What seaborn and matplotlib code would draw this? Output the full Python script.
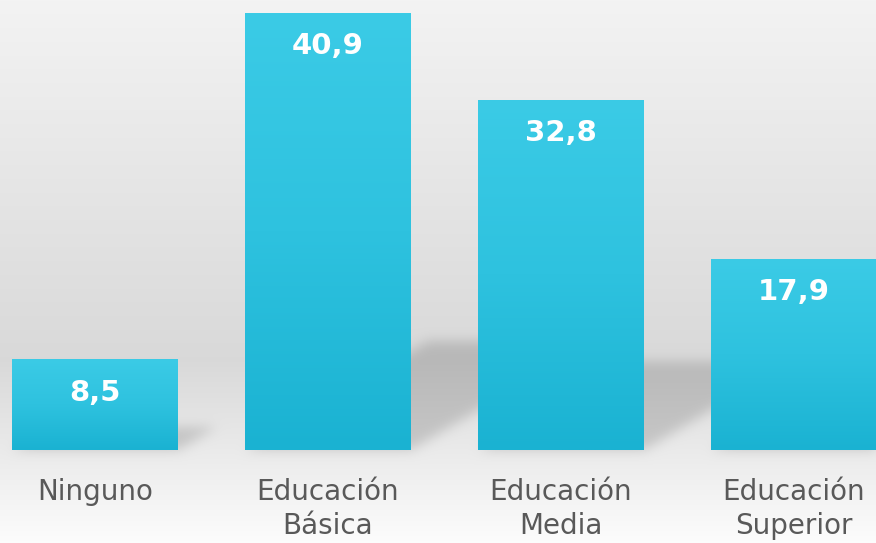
import numpy as np
import pandas as pd
import matplotlib
matplotlib.use("Agg")
import matplotlib.pyplot as plt
from matplotlib.path import Path
from matplotlib.colors import LinearSegmentedColormap
import seaborn as sns

# Nivel educativo alcanzado (%)
categories = ["Ninguno", "Educación\nBásica", "Educación\nMedia", "Educación\nSuperior"]
values = [8.5, 40.9, 32.8, 17.9]
value_labels = ["8,5", "40,9", "32,8", "17,9"]

W, H, DPI = 876, 543, 100
sns.set_theme(style="white")
plt.rcParams["font.family"] = ["DejaVu Sans"]

fig = plt.figure(figsize=(W / DPI, H / DPI), dpi=DPI)

# background axes covering the whole figure
bg_ax = fig.add_axes([0, 0, 1, 1], zorder=0)
bg_ax.set_axis_off()

ax = fig.add_axes([0, 93 / H, 1, 450 / H], zorder=1)
ax.patch.set_alpha(0)

df = pd.DataFrame({"nivel": categories, "pct": values})
sns.barplot(data=df, x="nivel", y="pct", color="#2bbfdd", width=0.712,
            saturation=1, ax=ax)
ax.set_xlim(-0.408, 3.352)
ax.set_ylim(0, 42.13)
ax.set_xlabel("")
ax.set_ylabel("")
ax.set_yticks([])
ax.tick_params(axis="x", length=0, pad=20, labelsize=20, labelcolor="#595959")
for lbl in ax.get_xticklabels():
    lbl.set_linespacing(1.28)
for s in ax.spines.values():
    s.set_visible(False)

# vertical gradient inside each bar
bar_cmap = LinearSegmentedColormap.from_list("bar", ["#1ab2d2", "#2ec2df", "#3bcbe6"])
grad = np.linspace(0, 1, 256).reshape(-1, 1)
for patch in ax.patches:
    x0, y0 = patch.get_x(), patch.get_y()
    w, h = patch.get_width(), patch.get_height()
    im = ax.imshow(grad, cmap=bar_cmap, origin="lower", aspect="auto",
                   extent=(x0, x0 + w, y0, y0 + h), zorder=2)
    im.set_clip_path(patch)
    patch.set_facecolor("none")
    patch.set_edgecolor("none")
ax.set_xlim(-0.408, 3.352)
ax.set_ylim(0, 42.13)

for i, (v, t) in enumerate(zip(values, value_labels)):
    ax.annotate(t, xy=(i, v), xytext=(0, -24), textcoords="offset points",
                ha="center", va="center", color="white", fontsize=21,
                fontweight="bold", zorder=3)

# background: light gray gradient plus soft perspective shadows of the bars
fig.canvas.draw()
rows = np.arange(H, dtype=float)
stops_y = [0, 360, 543]
stops_v = [0.953, 0.850, 0.990]
col = np.interp(rows, stops_y, stops_v)
bg = np.repeat(col[:, None], W, axis=1)

yy, xx = np.mgrid[0:H, 0:W]
pts = np.column_stack([xx.ravel() + 0.5, yy.ravel() + 0.5])
mask = np.zeros(H * W)
k, s = 0.42, 0.25
for patch in ax.patches:
    (px0, py0), (px1, py1) = ax.transData.transform(
        [[patch.get_x(), 0], [patch.get_x() + patch.get_width(), patch.get_height()]])
    # convert to image rows (top = 0)
    yb = H - py0
    hpx = py1 - py0
    poly = Path([(px0, yb), (px1, yb), (px1 + k * hpx, yb - s * hpx),
                 (px0 + k * hpx, yb - s * hpx), (px0, yb)])
    mask = np.maximum(mask, poly.contains_points(pts).astype(float))
mask = mask.reshape(H, W)

def blur(a, sigma):
    r = int(3 * sigma)
    kern = np.exp(-0.5 * (np.arange(-r, r + 1) / sigma) ** 2)
    kern /= kern.sum()
    a = np.apply_along_axis(lambda m: np.convolve(m, kern, mode="same"), 0, a)
    a = np.apply_along_axis(lambda m: np.convolve(m, kern, mode="same"), 1, a)
    return a

mask = blur(mask, 6)
img = bg * (1 - 0.15 * mask)
bg_ax.imshow(np.dstack([img, img, img]), extent=(0, 1, 0, 1), aspect="auto",
             interpolation="bilinear")
bg_ax.set_xlim(0, 1)
bg_ax.set_ylim(0, 1)

fig.savefig("out.png", dpi=DPI)
